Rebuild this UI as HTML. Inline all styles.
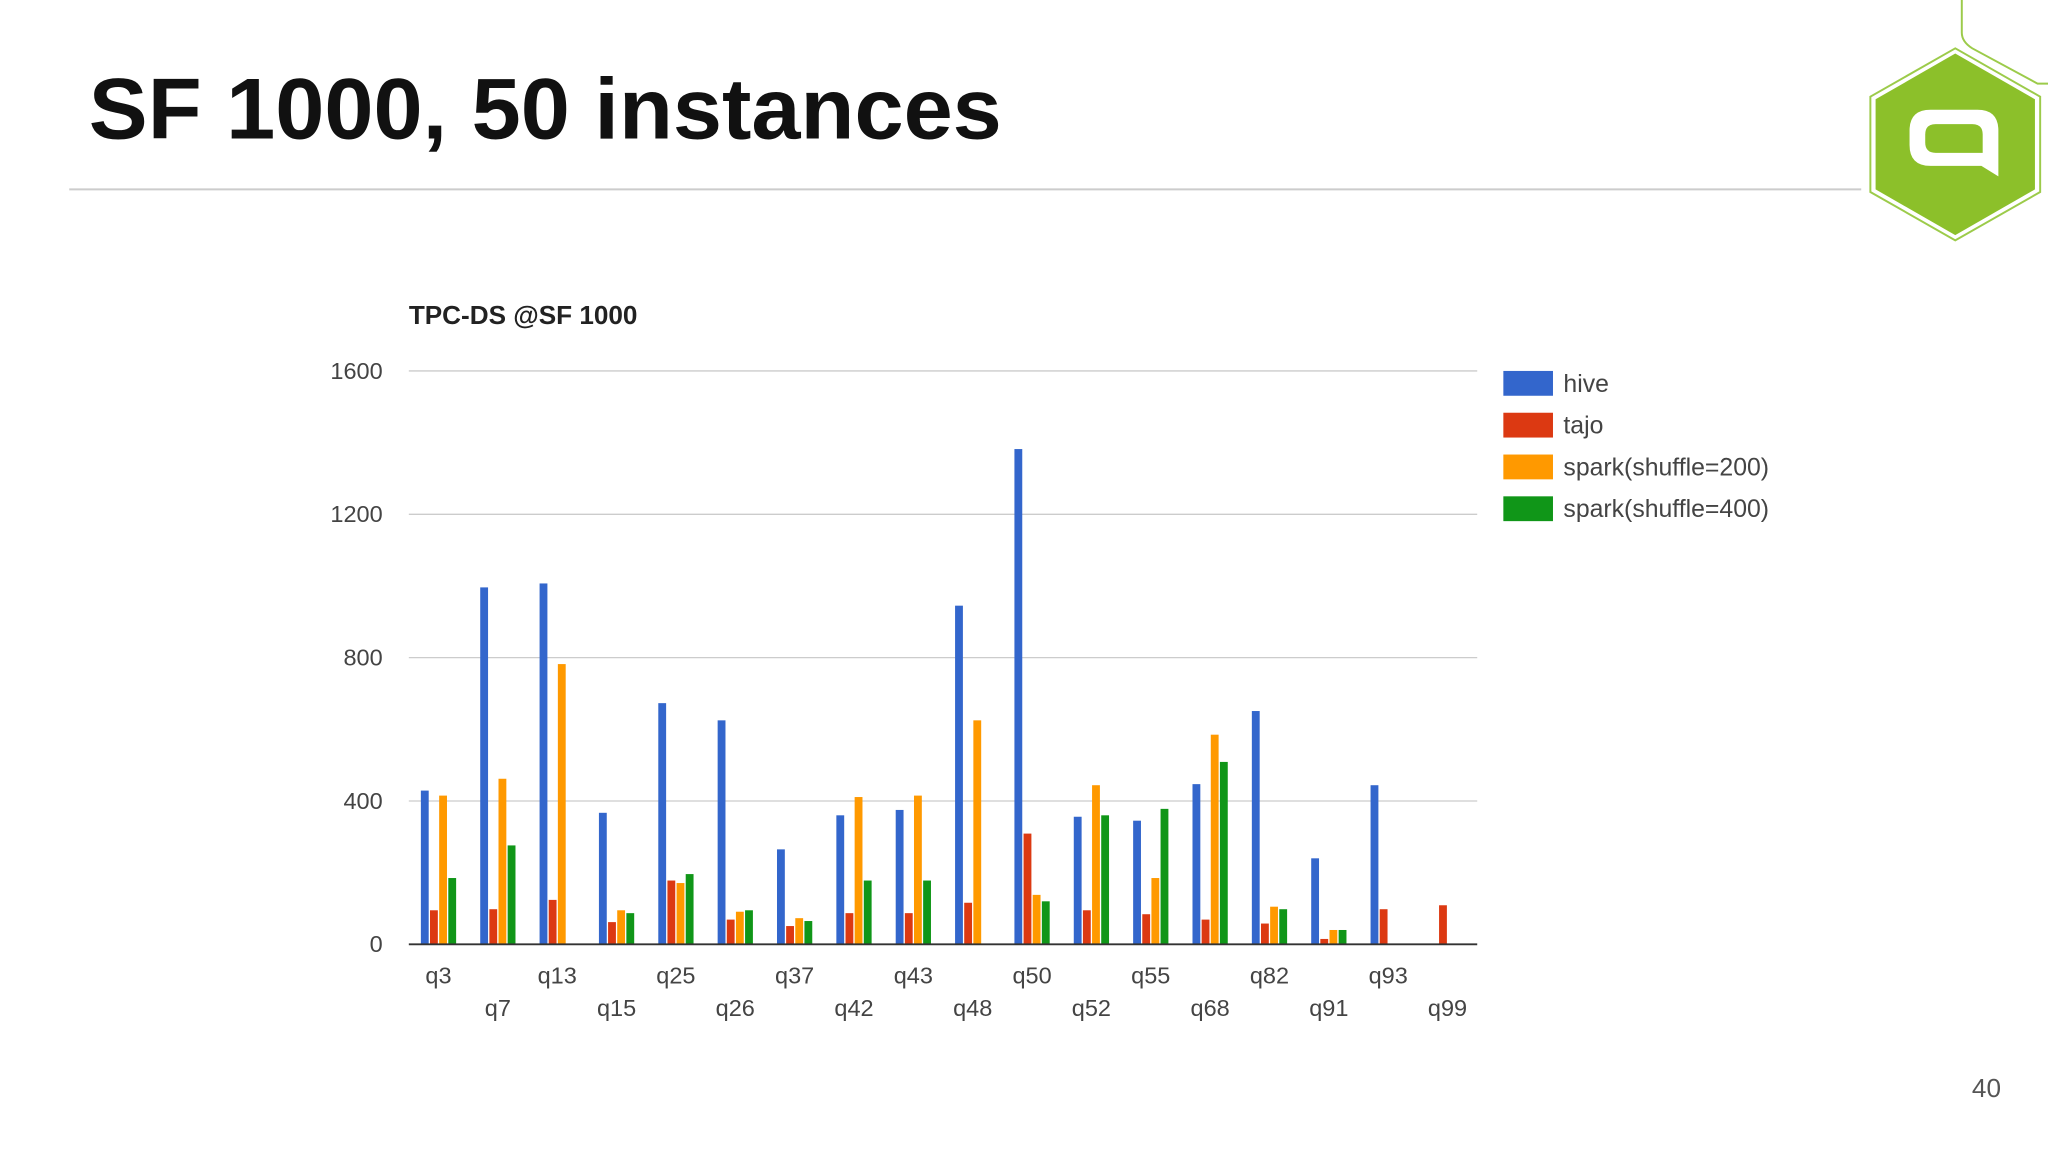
<!DOCTYPE html>
<html><head><meta charset="utf-8"><style>
html,body{margin:0;padding:0;background:#fff;}
svg{display:block;}
</style></head><body>
<svg id="slide" width="2048" height="1152" viewBox="0 0 1568 882" xmlns="http://www.w3.org/2000/svg" font-family="Liberation Sans, sans-serif">
<rect width="1568" height="882" fill="#fff"/>
<text x="68" y="106" font-size="66" font-weight="bold" fill="#111" textLength="699" lengthAdjust="spacingAndGlyphs">SF 1000, 50 instances</text>
<line x1="53" y1="145" x2="1425" y2="145" stroke="#ccc" stroke-width="1.5"/>
<g>
<path d="M1502 0 L1502 25 Q1502 32 1510 37 L1560 64 L1568 64" fill="none" stroke="#9ccb4a" stroke-width="1.5"/>
<polygon points="1497,37 1562,74 1562,147 1497,184 1432,147 1432,74" fill="#fff" stroke="#9ccb4a" stroke-width="1.5"/>
<polygon points="1497,41 1558,76 1558,145 1497,180 1436,145 1436,76" fill="#8cc02a"/>
<path d="M1478 84 L1514 84 Q1530 84 1530 100 L1530 135 L1517 127 L1478 127 Q1462 127 1462 111 L1462 100 Q1462 84 1478 84 Z" fill="#fff"/>
<path d="M1482 95 L1510 95 Q1518 95 1518 103 L1518 117 L1482 117 Q1474 117 1474 109 L1474 103 Q1474 95 1482 95 Z" fill="#8cc02a"/>
</g>
<text x="313" y="248" font-size="20" font-weight="bold" fill="#222">TPC-DS @SF 1000</text>
<g id="chart"></g>
<g id="legend"></g>
<text x="1532" y="840" font-size="20" fill="#555" text-anchor="end">40</text>
</svg>
<script>
const categories = ["q3","q7","q13","q15","q25","q26","q37","q42","q43","q48","q50","q52","q55","q68","q82","q91","q93","q99"];
const hive     = [429,996,1007,367,673,625,265,360,375,945,1382,356,345,447,651,240,444,0];
const tajo     = [95,98,124,62,178,69,51,87,87,116,309,95,84,69,58,15,98,109];
const spark200 = [415,462,782,95,171,91,73,411,415,625,138,444,185,585,105,40,0,0];
const spark400 = [185,276,0,87,196,95,65,178,178,0,120,360,378,509,98,40,0,0];
const seriesNames = ["hive","tajo","spark(shuffle=200)","spark(shuffle=400)"];
const yTicks = [0,400,800,1200,1600];

const NS="http://www.w3.org/2000/svg";
const colors=["#3366cc","#dc3912","#ff9900","#109618"];
const series=[hive,tajo,spark200,spark400];
const x0=313,x1=1131,yBase=723,yTop=284,yMax=1600;
const yScale=v=>yBase-(v/yMax)*(yBase-yTop);
const groupW=(x1-x0)/categories.length;
const xCenter=i=>x0+groupW*(i+0.5);
const chart=document.getElementById('chart');
function mk(tag,attrs){const e=document.createElementNS(NS,tag);for(const k in attrs)e.setAttribute(k,attrs[k]);return e;}
yTicks.forEach(t=>{
  const y=yScale(t);
  if(t>0){const l=mk('line',{x1:x0,x2:x1,y1:y,y2:y,stroke:'#ccc','stroke-width':1});
    
    
    chart.appendChild(l);}
  const tx=mk('text',{x:293,y:y+6,'font-size':18,fill:'#444','text-anchor':'end'});
  tx.textContent=t;
  
  
  chart.appendChild(tx);
});
const bw=6,step=7;
categories.forEach((c,i)=>{
  const cx=xCenter(i);
  series.forEach((s,k)=>{
    const v=s[i]; if(!v) return;
    const x=cx-2*step+k*step-bw/2+3.5;
    const r=mk('rect',{x:x,y:yScale(v),width:bw,height:yBase-yScale(v),fill:colors[k]});
    
    
    chart.appendChild(r);
  });
  const tx=mk('text',{x:cx,y:(i%2===0)?753:778,'font-size':18,fill:'#444','text-anchor':'middle'});
  tx.textContent=c;
  
  
  chart.appendChild(tx);
});
const ax=mk('line',{x1:x0,x2:x1,y1:yBase,y2:yBase,stroke:'#333','stroke-width':1.5});


chart.appendChild(ax);
const lg=document.getElementById('legend');
seriesNames.forEach((n,k)=>{
  const y=284+k*32;
  const r=mk('rect',{x:1151,y:y,width:38,height:19,fill:colors[k]});
  
  
  lg.appendChild(r);
  const t=mk('text',{x:1197,y:y+16,'font-size':19,fill:'#444'});
  t.textContent=n;
  
  
  lg.appendChild(t);
});
</script>
</body></html>
